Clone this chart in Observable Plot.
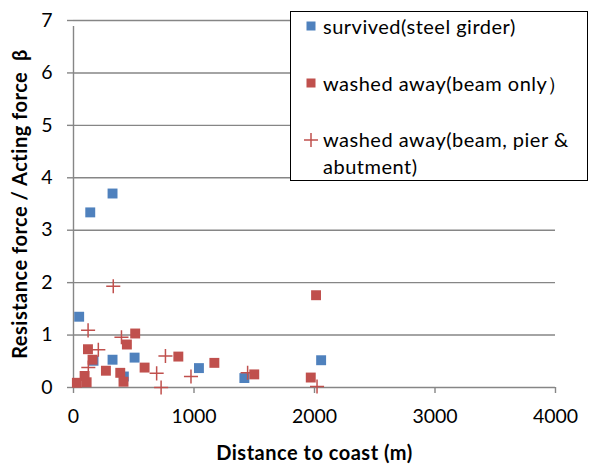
<!DOCTYPE html>
<html><head><meta charset="utf-8">
<script src="https://cdn.jsdelivr.net/npm/d3@7"></script>
<script src="https://cdn.jsdelivr.net/npm/@observablehq/plot@0.6"></script>
<style>
body{margin:0;background:#fff;}
#wrap{position:relative;width:592px;height:465px;font-family:Lato,sans-serif;}
#legend{position:absolute;left:290px;top:11px;width:296px;height:168px;border:1.5px solid #000;background:#fff;font-size:20px;letter-spacing:0.5px;color:#000;}
.item{position:absolute;left:32px;line-height:22px;white-space:nowrap;}
.mk{position:absolute;}
svg g[aria-label="y-axis label"] text, svg g[aria-label="x-axis label"] text{font-weight:bold;font-size:20px;letter-spacing:0.5px;}
</style></head>
<body><div id="wrap"></div>
<script>
const xTicks = [0, 1000, 2000, 3000, 4000];
const yTicks = [0, 1, 2, 3, 4, 5, 6, 7];
const seriesNames = ["survived(steel girder)", "washed away(beam only\uFF09", "washed away(beam, pier &", "abutment)"];
const xTitle = "Distance to coast (m)";
const yTitle = "Resistance force / Acting force  \u03B2";

const survivedX = [324, 139, 47, 166, 324, 507, 418, 1041, 1418, 2055];
const survivedY = [3.70, 3.34, 1.35, 0.51, 0.53, 0.57, 0.21, 0.37, 0.18, 0.52];

const beamX = [512, 443, 120, 158, 269, 388, 415, 590, 870, 1169, 92, 28, 109, 1500, 2013, 1969];
const beamY = [1.03, 0.82, 0.73, 0.53, 0.32, 0.28, 0.11, 0.38, 0.59, 0.47, 0.22, 0.09, 0.10, 0.25, 1.76, 0.19];

const allX = [330, 121, 398, 206, 123, 763, 690, 727, 975, 1445, 2021];
const allY = [1.93, 1.09, 0.96, 0.72, 0.38, 0.60, 0.27, 0.00, 0.21, 0.28, 0.02];

const toRows = (xs, ys) => xs.map((x, i) => ({x, y: ys[i]}));
const survived = toRows(survivedX, survivedY);
const beam = toRows(beamX, beamY);
const all = toRows(allX, allY);

const blue = "#4F81BD", red = "#C0504D", gray = "#868686";

const chart = Plot.plot({
  width: 592, height: 465,
  marginLeft: 73, marginRight: 37, marginTop: 20, marginBottom: 78,
  x: {domain: [0, 4000]},
  y: {domain: [0, 7]},
  style: {fontFamily: "Lato, sans-serif", fontSize: "19.5px", color: "#000", background: "#fff"},
  marks: [
    Plot.gridY(yTicks, {stroke: gray, strokeOpacity: 1, strokeWidth: 1.4}),
    Plot.ruleX([0], {stroke: gray, strokeWidth: 1.4, y1: 0, y2: 7, insetBottom: -6}),
    Plot.axisY({ticks: yTicks, tickFormat: d3.format("d"), tickSize: 6, stroke: gray, strokeWidth: 1.4, tickPadding: 15,
      label: yTitle, labelAnchor: "center", labelArrow: "none", labelOffset: 61}),
    Plot.axisX({ticks: xTicks, tickFormat: d3.format("d"), tickSize: 6, stroke: gray, strokeWidth: 1.4, tickPadding: 16,
      label: xTitle, labelAnchor: "center", labelArrow: "none", labelOffset: 72}),
    Plot.dot(survived, {x: "x", y: "y", symbol: "square", r: 5.6, fill: blue}),
    Plot.dot(beam, {x: "x", y: "y", symbol: "square", r: 5.6, fill: red}),
    Plot.dot(all, {x: "x", y: "y", symbol: "plus", r: 4.6, stroke: red, strokeWidth: 1.5})
  ]
});

const wrap = document.getElementById("wrap");
wrap.appendChild(chart);

const legend = document.createElement("div");
legend.id = "legend";
const tops = [3, 60, 116, 143];
seriesNames.forEach((name, i) => {
  const d = document.createElement("div");
  d.className = "item";
  d.style.top = tops[i] + "px";
  d.textContent = name;
  legend.appendChild(d);
});
const mkSvg = `<svg class="mk" style="left:11px;top:5px" width="20" height="130">
 <rect x="4.5" y="4.5" width="9" height="9" fill="${blue}"/>
 <rect x="4.5" y="61.5" width="9" height="9" fill="${red}"/>
 <path d="M2,123H16M9,116V130" stroke="${red}" stroke-width="1.5" fill="none"/>
</svg>`;
legend.insertAdjacentHTML("beforeend", mkSvg);
wrap.appendChild(legend);
</script>
</body></html>
